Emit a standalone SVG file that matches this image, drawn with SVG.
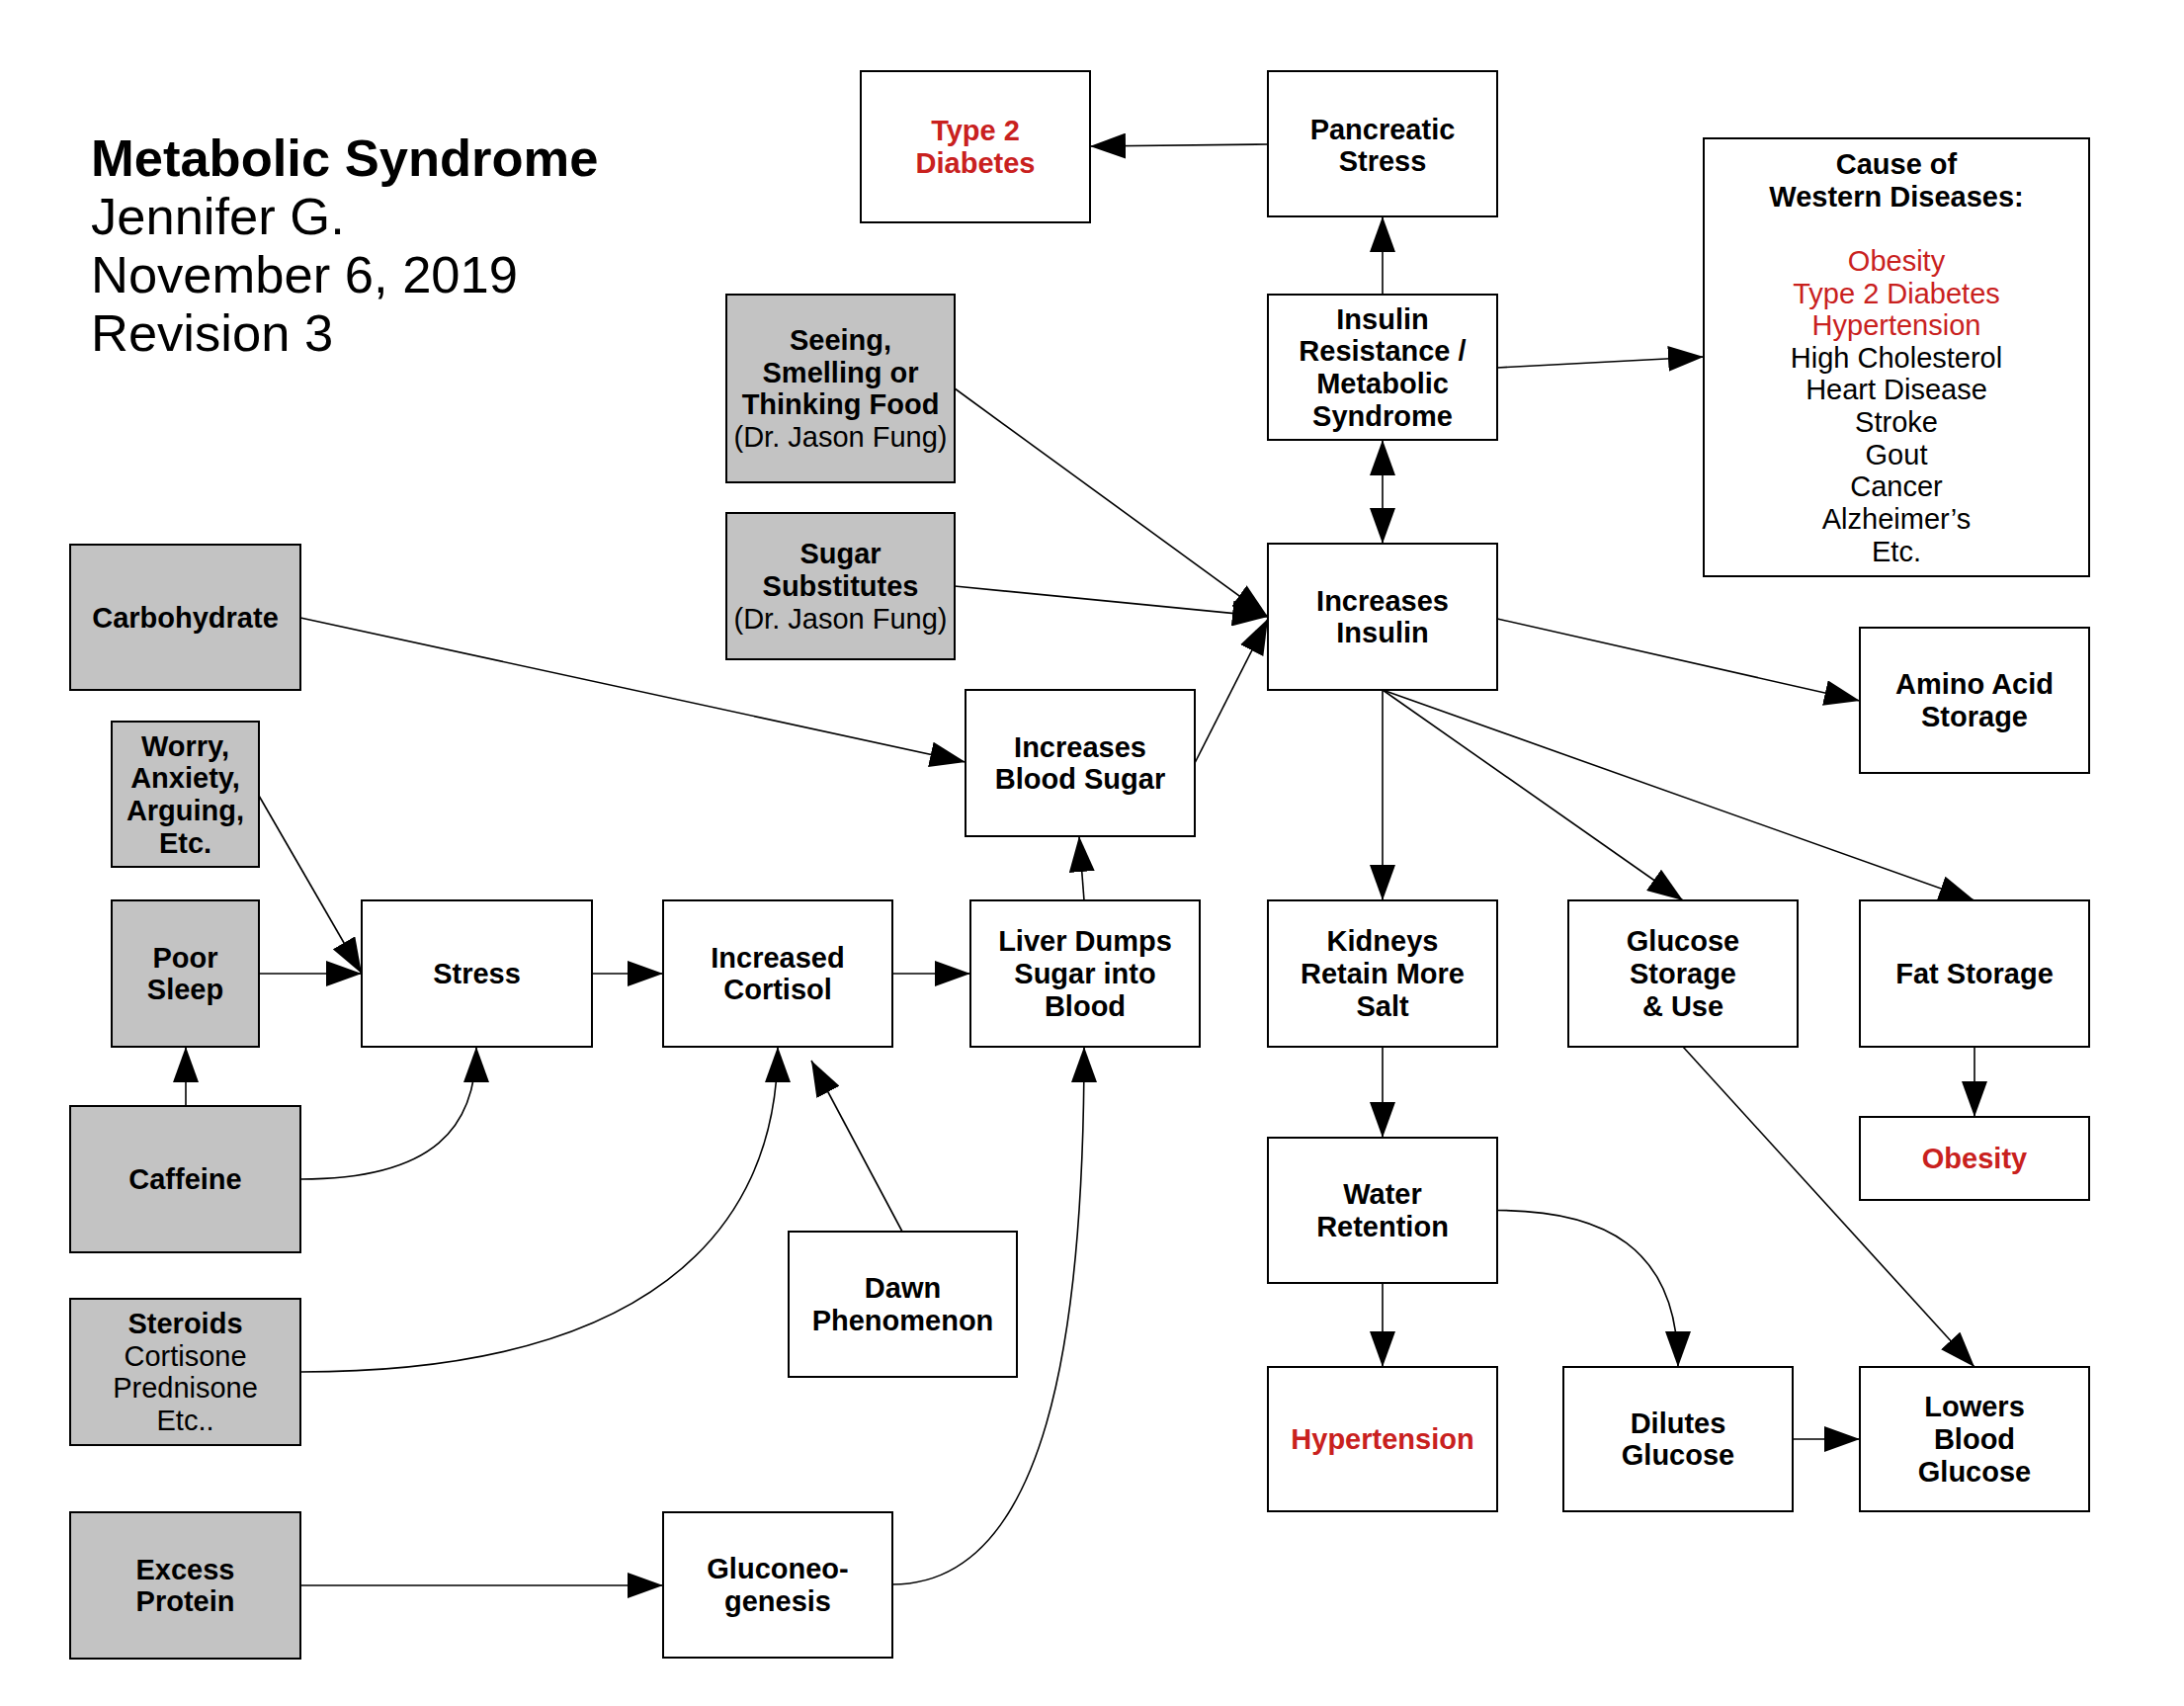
<svg xmlns="http://www.w3.org/2000/svg" width="2210" height="1726" viewBox="0 0 2210 1726">
<style>
.n{fill:#fff;stroke:#000;stroke-width:2}
.g{fill:#c3c3c3;stroke:#000;stroke-width:2}
text{font-family:"Liberation Sans",Arial,sans-serif;font-size:29px;text-anchor:middle;fill:#000}
.b{font-weight:bold}
.red{fill:#c9211e}
.title{text-anchor:start;font-size:52.5px}
#connectors path,#connectors line{fill:none;stroke:#000;stroke-width:1.6;marker-end:url(#ah)}
</style>
<defs>
<marker id="ah" markerUnits="userSpaceOnUse" markerWidth="36" markerHeight="26" refX="36" refY="13" orient="auto">
<path d="M0,0 L36,13 L0,26 z" fill="#000"/>
</marker>
<marker id="ahs" markerUnits="userSpaceOnUse" markerWidth="36" markerHeight="26" refX="0" refY="13" orient="auto">
<path d="M36,0 L0,13 L36,26 z" fill="#000"/>
</marker>
</defs>
<rect width="2210" height="1726" fill="#fff"/>
<g id="title">
<text class="title b" x="92" y="178">Metabolic Syndrome</text>
<text class="title" x="92" y="237">Jennifer G.</text>
<text class="title" x="92" y="296">November 6, 2019</text>
<text class="title" x="92" y="355">Revision 3</text>
</g>
<g id="connectors">
<line x1="1283" y1="146" x2="1103" y2="148"/>
<line x1="1399" y1="298" x2="1399" y2="219"/>
<line x1="1399" y1="445" x2="1399" y2="550" marker-start="url(#ahs)"/>
<line x1="1515" y1="372" x2="1724" y2="361"/>
<line x1="966" y1="393" x2="1283" y2="624"/>
<line x1="966" y1="593" x2="1283" y2="624"/>
<line x1="1209" y1="772" x2="1283" y2="626"/>
<line x1="1515" y1="626" x2="1882" y2="709"/>
<line x1="1399" y1="698" x2="1399" y2="911"/>
<line x1="1399" y1="698" x2="1703" y2="911"/>
<line x1="1399" y1="698" x2="1998" y2="911"/>
<line x1="304" y1="625" x2="977" y2="771"/>
<line x1="262" y1="805" x2="366" y2="985"/>
<line x1="262" y1="985" x2="366" y2="985"/>
<line x1="188" y1="1119" x2="188" y2="1059"/>
<path d="M304,1193 C440,1193 482,1140 482,1059"/>
<line x1="599" y1="985" x2="671" y2="985"/>
<line x1="903" y1="985" x2="982" y2="985"/>
<line x1="1097" y1="911" x2="1092" y2="846"/>
<path d="M304,1388 C650,1388 787,1250 787,1059"/>
<line x1="913" y1="1246" x2="821" y2="1073"/>
<line x1="304" y1="1604" x2="671" y2="1604"/>
<path d="M903,1603 C1060,1603 1097,1350 1097,1059"/>
<line x1="1399" y1="1059" x2="1399" y2="1151"/>
<line x1="1399" y1="1298" x2="1399" y2="1383"/>
<path d="M1515,1224.5 C1620,1224.5 1698,1260 1698,1383"/>
<line x1="1703" y1="1059" x2="1998" y2="1383"/>
<line x1="1814" y1="1456" x2="1882" y2="1456"/>
<line x1="1998" y1="1059" x2="1998" y2="1130"/>
</g>
<g id="type2"><rect class="n" x="871" y="72" width="232" height="153"/><text class="b red" x="987" y="142.2">Type 2</text><text class="b red" x="987" y="174.9">Diabetes</text></g>
<g id="pancreatic"><rect class="n" x="1283" y="72" width="232" height="147"/><text class="b" x="1399" y="140.6">Pancreatic</text><text class="b" x="1399" y="173.3">Stress</text></g>
<g id="cause"><rect class="n" x="1724" y="140" width="390" height="443"/>
<text class="b" x="1919" y="176">Cause of</text>
<text class="b" x="1919" y="208.6">Western Diseases:</text>
<text class="red" x="1919" y="273.9">Obesity</text>
<text class="red" x="1919" y="306.5">Type 2 Diabetes</text>
<text class="red" x="1919" y="339.2">Hypertension</text>
<text x="1919" y="371.8">High Cholesterol</text>
<text x="1919" y="404.4">Heart Disease</text>
<text x="1919" y="437">Stroke</text>
<text x="1919" y="469.7">Gout</text>
<text x="1919" y="502.3">Cancer</text>
<text x="1919" y="534.9">Alzheimer’s</text>
<text x="1919" y="567.6">Etc.</text>
</g>
<g id="seeing"><rect class="g" x="735" y="298" width="231" height="190"/><text class="b" x="850.5" y="354">Seeing,</text><text class="b" x="850.5" y="386.6">Smelling or</text><text class="b" x="850.5" y="419.3">Thinking Food</text><text x="850.5" y="452">(Dr. Jason Fung)</text></g>
<g id="sugarsub"><rect class="g" x="735" y="519" width="231" height="148"/><text class="b" x="850.5" y="570.3">Sugar</text><text class="b" x="850.5" y="603">Substitutes</text><text x="850.5" y="635.7">(Dr. Jason Fung)</text></g>
<g id="insres"><rect class="n" x="1283" y="298" width="232" height="147"/><text class="b" x="1399" y="332.5">Insulin</text><text class="b" x="1399" y="365.1">Resistance /</text><text class="b" x="1399" y="397.8">Metabolic</text><text class="b" x="1399" y="430.5">Syndrome</text></g>
<g id="incins"><rect class="n" x="1283" y="550" width="232" height="148"/><text class="b" x="1399" y="617.7">Increases</text><text class="b" x="1399" y="650.3">Insulin</text></g>
<g id="amino"><rect class="n" x="1882" y="635" width="232" height="147"/><text class="b" x="1998" y="702.2">Amino Acid</text><text class="b" x="1998" y="734.8">Storage</text></g>
<g id="carb"><rect class="g" x="71" y="551" width="233" height="147"/><text class="b" x="187.5" y="634.5">Carbohydrate</text></g>
<g id="bsugar"><rect class="n" x="977" y="698" width="232" height="148"/><text class="b" x="1093" y="765.7">Increases</text><text class="b" x="1093" y="798.3">Blood Sugar</text></g>
<g id="worry"><rect class="g" x="113" y="730" width="149" height="147"/><text class="b" x="187.5" y="764.5">Worry,</text><text class="b" x="187.5" y="797.1">Anxiety,</text><text class="b" x="187.5" y="829.8">Arguing,</text><text class="b" x="187.5" y="862.5">Etc.</text></g>
<g id="poorsleep"><rect class="g" x="113" y="911" width="149" height="148"/><text class="b" x="187.5" y="978.7">Poor</text><text class="b" x="187.5" y="1011.3">Sleep</text></g>
<g id="stress"><rect class="n" x="366" y="911" width="233" height="148"/><text class="b" x="482.5" y="995">Stress</text></g>
<g id="cortisol"><rect class="n" x="671" y="911" width="232" height="148"/><text class="b" x="787" y="978.7">Increased</text><text class="b" x="787" y="1011.3">Cortisol</text></g>
<g id="liver"><rect class="n" x="982" y="911" width="232" height="148"/><text class="b" x="1098" y="962.3">Liver Dumps</text><text class="b" x="1098" y="995">Sugar into</text><text class="b" x="1098" y="1027.7">Blood</text></g>
<g id="kidneys"><rect class="n" x="1283" y="911" width="232" height="148"/><text class="b" x="1399" y="962.3">Kidneys</text><text class="b" x="1399" y="995">Retain More</text><text class="b" x="1399" y="1027.7">Salt</text></g>
<g id="glucose"><rect class="n" x="1587" y="911" width="232" height="148"/><text class="b" x="1703" y="962.3">Glucose</text><text class="b" x="1703" y="995">Storage</text><text class="b" x="1703" y="1027.7">&amp; Use</text></g>
<g id="fat"><rect class="n" x="1882" y="911" width="232" height="148"/><text class="b" x="1998" y="995">Fat Storage</text></g>
<g id="obesity"><rect class="n" x="1882" y="1130" width="232" height="84"/><text class="b red" x="1998" y="1182">Obesity</text></g>
<g id="caffeine"><rect class="g" x="71" y="1119" width="233" height="148"/><text class="b" x="187.5" y="1203">Caffeine</text></g>
<g id="water"><rect class="n" x="1283" y="1151" width="232" height="147"/><text class="b" x="1399" y="1218.2">Water</text><text class="b" x="1399" y="1250.8">Retention</text></g>
<g id="steroids"><rect class="g" x="71" y="1314" width="233" height="148"/><text class="b" x="187.5" y="1349">Steroids</text><text x="187.5" y="1381.6">Cortisone</text><text x="187.5" y="1414.3">Prednisone</text><text x="187.5" y="1447">Etc..</text></g>
<g id="dawn"><rect class="n" x="798" y="1246" width="231" height="147"/><text class="b" x="913.5" y="1313.2">Dawn</text><text class="b" x="913.5" y="1345.8">Phenomenon</text></g>
<g id="hypertension"><rect class="n" x="1283" y="1383" width="232" height="146"/><text class="b red" x="1399" y="1466">Hypertension</text></g>
<g id="dilutes"><rect class="n" x="1582" y="1383" width="232" height="146"/><text class="b" x="1698" y="1449.7">Dilutes</text><text class="b" x="1698" y="1482.3">Glucose</text></g>
<g id="lowers"><rect class="n" x="1882" y="1383" width="232" height="146"/><text class="b" x="1998" y="1433.3">Lowers</text><text class="b" x="1998" y="1466">Blood</text><text class="b" x="1998" y="1498.7">Glucose</text></g>
<g id="excess"><rect class="g" x="71" y="1530" width="233" height="148"/><text class="b" x="187.5" y="1597.7">Excess</text><text class="b" x="187.5" y="1630.3">Protein</text></g>
<g id="gluco"><rect class="n" x="671" y="1530" width="232" height="147"/><text class="b" x="787" y="1597.2">Gluconeo-</text><text class="b" x="787" y="1629.8">genesis</text></g>
</svg>
